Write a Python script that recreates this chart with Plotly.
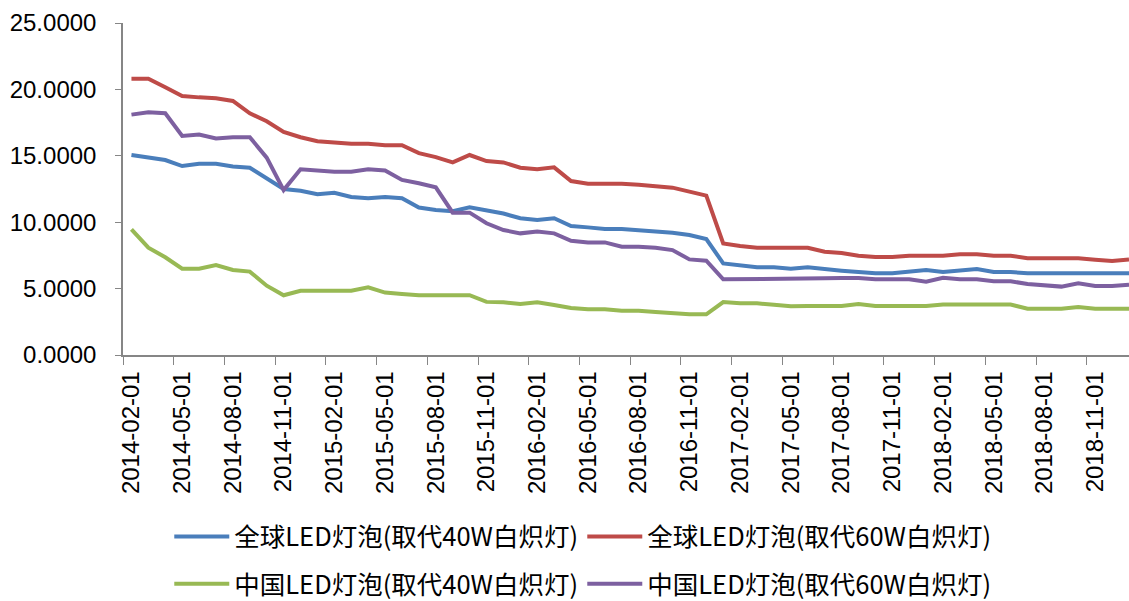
import plotly.graph_objects as go

months = []
for y in range(2014, 2020):
    for m in range(1, 13):
        if (y == 2014 and m < 2) or (y == 2019 and m > 1):
            continue
        months.append(f"{y}-{m:02d}-01")

global_40w = [15.06, 14.88, 14.68, 14.23, 14.4, 14.4, 14.2, 14.1, 13.3, 12.5,
              12.37, 12.1, 12.22, 11.9, 11.8, 11.9, 11.8, 11.1, 10.92, 10.82,
              11.12, 10.87, 10.65, 10.3, 10.17, 10.3, 9.71, 9.61, 9.49, 9.49,
              9.41, 9.31, 9.21, 9.04, 8.73, 6.9, 6.78, 6.6, 6.6, 6.5,
              6.6, 6.45, 6.35, 6.25, 6.15, 6.15, 6.25, 6.4, 6.25, 6.35,
              6.48, 6.25, 6.25, 6.15, 6.15, 6.15, 6.15, 6.15, 6.15, 6.15]
global_60w = [20.8, 20.8, 20.16, 19.5, 19.4, 19.33, 19.13, 18.2, 17.6, 16.8,
              16.4, 16.1, 16.0, 15.9, 15.9, 15.8, 15.8, 15.2, 14.9, 14.5,
              15.06, 14.6, 14.5, 14.1, 13.98, 14.13, 13.1, 12.9, 12.9, 12.9,
              12.82, 12.7, 12.6, 12.3, 12.0, 8.4, 8.2, 8.08, 8.08, 8.08,
              8.08, 7.78, 7.68, 7.48, 7.38, 7.38, 7.48, 7.48, 7.48, 7.58,
              7.58, 7.48, 7.48, 7.28, 7.28, 7.28, 7.28, 7.18, 7.08, 7.2]
china_40w = [9.46, 8.08, 7.36, 6.5, 6.5, 6.78, 6.4, 6.28, 5.22, 4.5,
             4.84, 4.84, 4.84, 4.84, 5.1, 4.7, 4.6, 4.5, 4.5, 4.5,
             4.5, 4.0, 3.97, 3.84, 3.97, 3.77, 3.54, 3.44, 3.44, 3.34,
             3.34, 3.24, 3.16, 3.06, 3.06, 3.99, 3.89, 3.89, 3.79, 3.67,
             3.69, 3.69, 3.69, 3.84, 3.69, 3.69, 3.69, 3.69, 3.8, 3.8,
             3.8, 3.8, 3.8, 3.49, 3.49, 3.49, 3.62, 3.49, 3.49, 3.49]
china_60w = [18.1, 18.27, 18.2, 16.5, 16.6, 16.3, 16.4, 16.4, 14.86, 12.42,
             13.98, 13.9, 13.8, 13.8, 13.98, 13.9, 13.18, 12.93, 12.63, 10.72,
             10.72, 9.92, 9.41, 9.16, 9.29, 9.16, 8.6, 8.48, 8.48, 8.16,
             8.16, 8.08, 7.9, 7.2, 7.1, 5.7, 5.7, 5.7, 5.7, 5.7,
             5.7, 5.77, 5.8, 5.8, 5.7, 5.7, 5.7, 5.52, 5.82, 5.7,
             5.7, 5.55, 5.55, 5.35, 5.27, 5.15, 5.4, 5.2, 5.2, 5.3]

series = [
    ("全球LED灯泡(取代40W白炽灯)", global_40w, "#4A7EBB", "legend"),
    ("全球LED灯泡(取代60W白炽灯)", global_60w, "#BE4B48", "legend"),
    ("中国LED灯泡(取代40W白炽灯)", china_40w, "#98B954", "legend2"),
    ("中国LED灯泡(取代60W白炽灯)", china_60w, "#7D60A0", "legend2"),
]

fig = go.Figure()
for name, vals, color, lg in series:
    fig.add_trace(go.Scatter(x=months, y=vals, mode="lines", name=name,
                             line=dict(color=color, width=4), legend=lg))

axis_color = "#868686"
tick_font = dict(family="Liberation Sans, Arial, sans-serif", size=24, color="#000000")
legend_font = dict(family="Noto Sans CJK SC, sans-serif", size=25.5, color="#000000")

fig.update_layout(
    width=1129, height=601,
    margin=dict(l=123, r=0, t=23, b=246, autoexpand=False),
    paper_bgcolor="white", plot_bgcolor="white",
    showlegend=True,
    xaxis=dict(type="category", range=[-0.5, 59.0], tickmode="linear", tick0=0, dtick=3,
               tickson="boundaries", ticks="outside", ticklen=8, tickcolor=axis_color,
               showline=True, linecolor=axis_color, linewidth=1.5, showgrid=False,
               tickangle=-90, tickfont=tick_font, zeroline=False, automargin=False,
               ticklabelstandoff=5),
    yaxis=dict(range=[0, 25], tickmode="linear", tick0=0, dtick=5, tickformat=".4f",
               ticks="outside", ticklen=6, tickcolor=axis_color, showline=True,
               linecolor=axis_color, linewidth=1.5, showgrid=False, tickfont=tick_font,
               zeroline=False, ticklabelstandoff=14, automargin=False),
    legend=dict(orientation="h", x=0.046, y=-0.548, xanchor="left", yanchor="middle",
                font=legend_font, entrywidth=343, entrywidthmode="pixels",
                bgcolor="rgba(0,0,0,0)", itemwidth=55),
    legend2=dict(orientation="h", x=0.046, y=-0.69, xanchor="left", yanchor="middle",
                 font=legend_font, entrywidth=343, entrywidthmode="pixels",
                 bgcolor="rgba(0,0,0,0)", itemwidth=55),
)

fig.write_html("out.html", config={"displayModeBar": False},
               post_script="document.body.style.margin='0';document.body.style.overflow='hidden';")
